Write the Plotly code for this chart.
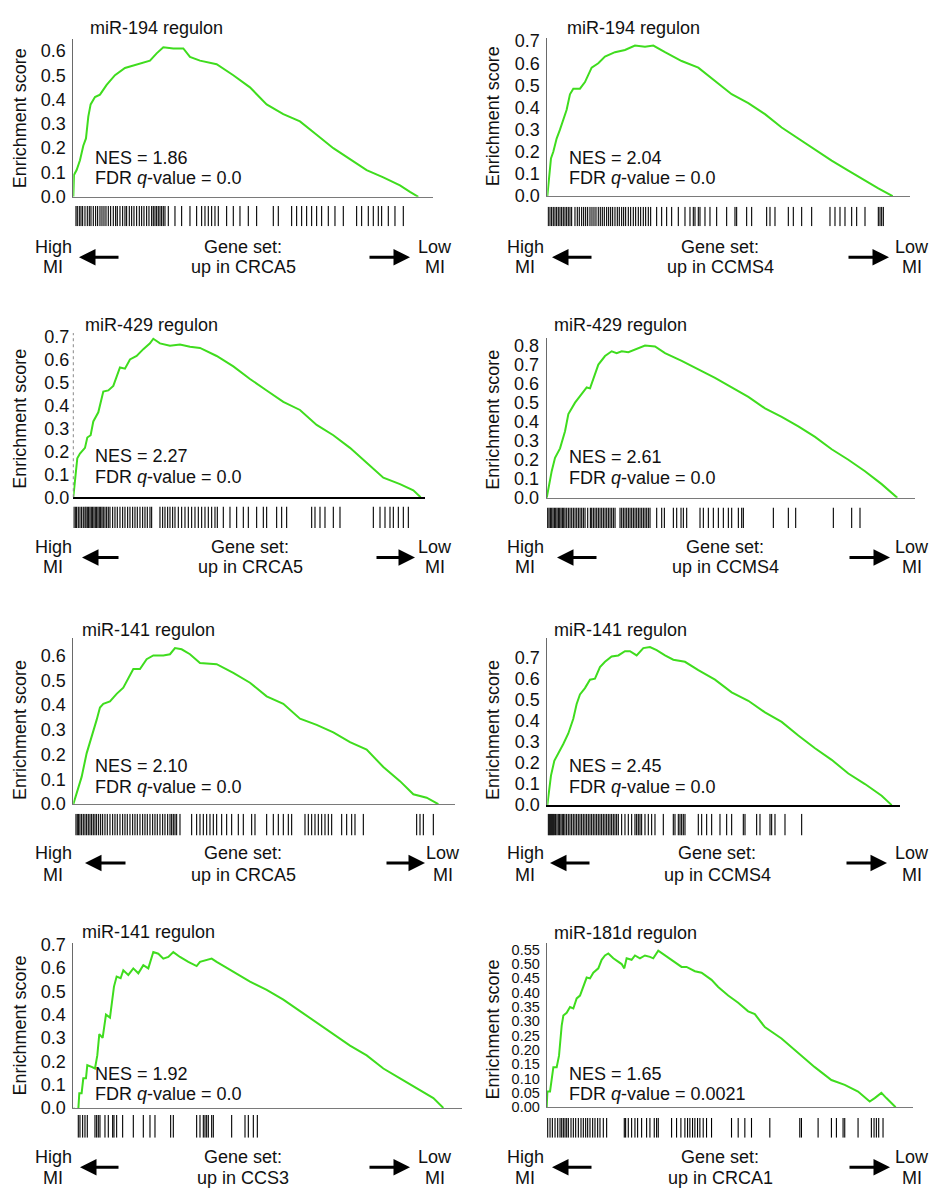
import plotly.graph_objects as go

W, H = 931, 1198
FONT = "Liberation Sans, Arial, Helvetica, sans-serif"
GREEN = "#3fdc1e"

# ---------------- data ----------------
titles = ["miR-194 regulon", "miR-194 regulon", "miR-429 regulon", "miR-429 regulon",
          "miR-141 regulon", "miR-141 regulon", "miR-141 regulon", "miR-181d regulon"]
nes_values = ["1.86", "2.04", "2.27", "2.61", "2.10", "2.45", "1.92", "1.65"]
fdr_values = ["0.0", "0.0", "0.0", "0.0", "0.0", "0.0", "0.0", "0.0021"]
gene_sets = ["CRCA5", "CCMS4", "CRCA5", "CCMS4", "CRCA5", "CCMS4", "CCS3", "CRCA1"]

p1_rank = [0, 2, 10, 20, 30, 38, 45, 52, 65, 80, 100, 125, 155, 180, 210, 230, 250, 270, 300, 330,
           350, 380, 430, 480, 530, 580, 630, 680, 730, 780, 830, 880, 930, 980, 1010, 1035]
p1_es = [0, 0.09, 0.11, 0.15, 0.21, 0.24, 0.33, 0.38, 0.41, 0.42, 0.46, 0.50, 0.53, 0.54, 0.55, 0.56,
         0.59, 0.615, 0.61, 0.61, 0.575, 0.56, 0.545, 0.50, 0.45, 0.38, 0.34, 0.31, 0.255, 0.20,
         0.155, 0.11, 0.08, 0.047, 0.02, 0.0]
p1_hits = [8, 12, 18, 23, 28, 35, 42, 48, 53, 60, 67, 73, 80, 86, 92, 98, 105, 112, 120, 127, 132, 140,
           148, 155, 160, 168, 175, 182, 190, 198, 205, 212, 220, 227, 235, 240, 245, 250, 255, 260,
           265, 270, 275, 285, 305, 325, 350, 370, 385, 395, 405, 415, 425, 435, 460, 480, 500, 525,
           550, 600, 615, 655, 670, 685, 700, 715, 730, 745, 765, 785, 810, 850, 865, 885, 900, 915,
           925, 945, 965, 990]

p2_rank = [0, 3, 11, 18, 28, 38, 48, 58, 68, 78, 98, 113, 133, 153, 173, 203, 233, 263, 293, 318,
           353, 403, 453, 503, 553, 603, 653, 703, 753, 803, 853, 903, 953, 993, 1036]
p2_es = [0, 0.05, 0.17, 0.20, 0.26, 0.30, 0.345, 0.39, 0.46, 0.485, 0.485, 0.515, 0.58, 0.60, 0.63,
         0.65, 0.66, 0.68, 0.675, 0.68, 0.65, 0.61, 0.58, 0.52, 0.46, 0.42, 0.37, 0.31, 0.26, 0.21,
         0.16, 0.115, 0.07, 0.035, 0.0]
p2_hits = [3, 8, 13, 18, 23, 28, 33, 38, 43, 48, 53, 58, 63, 68, 73, 83, 90, 96, 103, 109, 115, 121,
           128, 134, 140, 146, 153, 159, 165, 171, 178, 184, 190, 196, 203, 210, 216, 223, 229, 235,
           243, 250, 258, 265, 273, 280, 288, 295, 303, 310, 328, 343, 358, 373, 393, 413, 428, 438,
           443, 453, 458, 473, 488, 508, 538, 563, 568, 598, 613, 658, 668, 683, 723, 738, 763, 793,
           848, 863, 878, 893, 913, 928, 953, 993, 998, 1003, 1008]

p3_rank = [0, 5, 12, 20, 35, 42, 52, 60, 75, 90, 105, 120, 140, 155, 170, 190, 210, 230, 240, 260,
           290, 320, 350, 380, 430, 480, 530, 580, 630, 680, 730, 780, 830, 880, 930, 980, 1020, 1042]
p3_es = [0, 0.065, 0.17, 0.19, 0.215, 0.26, 0.27, 0.33, 0.37, 0.46, 0.465, 0.485, 0.565, 0.56, 0.60,
         0.615, 0.645, 0.67, 0.69, 0.67, 0.66, 0.665, 0.655, 0.65, 0.615, 0.57, 0.515, 0.465, 0.415,
         0.38, 0.315, 0.27, 0.215, 0.15, 0.085, 0.057, 0.03, 0.0]
p3_hits = [2, 6, 10, 15, 20, 25, 30, 35, 38, 42, 46, 50, 54, 58, 62, 66, 70, 74, 78, 82, 86, 90, 95,
           100, 105, 110, 118, 125, 132, 140, 148, 155, 163, 170, 178, 185, 192, 200, 208, 215, 222,
           230, 235, 260, 268, 275, 283, 290, 298, 305, 315, 325, 335, 345, 355, 365, 375, 385, 395,
           405, 415, 425, 432, 450, 470, 490, 510, 525, 550, 570, 580, 610, 625, 640, 715, 725, 740,
           755, 780, 800, 900, 920, 935, 950, 960, 975, 990, 1005]

p4_rank = [0, 5, 15, 25, 40, 55, 65, 85, 105, 120, 130, 140, 155, 175, 195, 210, 225, 245, 265, 295,
           325, 355, 405, 455, 505, 555, 605, 655, 705, 755, 805, 855, 905, 955, 1005, 1052]
p4_es = [0, 0.055, 0.14, 0.21, 0.26, 0.35, 0.44, 0.50, 0.545, 0.58, 0.575, 0.63, 0.70, 0.745, 0.77,
         0.76, 0.77, 0.765, 0.78, 0.80, 0.795, 0.76, 0.72, 0.675, 0.63, 0.58, 0.53, 0.47, 0.425,
         0.375, 0.32, 0.255, 0.20, 0.14, 0.072, 0.0]
p4_hits = [3, 7, 11, 15, 19, 23, 27, 31, 35, 39, 43, 47, 51, 55, 60, 65, 70, 75, 80, 85, 90, 95, 100,
           105, 110, 115, 123, 131, 135, 140, 145, 150, 155, 160, 165, 170, 175, 180, 185, 190, 195,
           200, 205, 220, 225, 230, 235, 240, 245, 250, 255, 260, 265, 270, 275, 280, 285, 290, 295,
           300, 305, 310, 330, 345, 353, 380, 390, 403, 410, 420, 460, 470, 485, 500, 515, 530, 545,
           555, 575, 585, 590, 680, 725, 747, 860, 915, 940]

p5_rank = [0, 10, 25, 40, 55, 70, 80, 90, 110, 130, 150, 165, 180, 200, 220, 240, 270, 290, 305, 325,
           350, 380, 430, 480, 530, 580, 630, 680, 730, 780, 830, 880, 930, 980, 1020, 1060, 1095]
p5_es = [0, 0.046, 0.11, 0.205, 0.27, 0.34, 0.39, 0.405, 0.415, 0.445, 0.47, 0.51, 0.545, 0.545,
         0.585, 0.60, 0.60, 0.605, 0.63, 0.625, 0.605, 0.57, 0.565, 0.53, 0.49, 0.435, 0.405, 0.345,
         0.32, 0.29, 0.25, 0.22, 0.15, 0.093, 0.04, 0.026, 0.0]
p5_hits = [8, 12, 16, 20, 25, 30, 35, 40, 45, 50, 55, 60, 65, 70, 76, 82, 88, 95, 102, 110, 118, 125,
           132, 140, 148, 155, 162, 170, 178, 185, 192, 200, 208, 215, 222, 230, 238, 245, 252, 260,
           268, 275, 283, 290, 295, 300, 305, 310, 320, 355, 370, 380, 390, 400, 410, 420, 430, 445,
           460, 475, 495, 510, 535, 545, 580, 600, 615, 630, 645, 655, 695, 705, 715, 725, 735, 745,
           755, 765, 775, 805, 820, 835, 845, 870, 1030, 1040, 1050, 1080]

p6_rank = [0, 5, 11, 21, 33, 48, 63, 78, 88, 98, 113, 128, 143, 158, 173, 193, 213, 233, 248, 268,
           288, 308, 328, 353, 378, 413, 453, 503, 553, 603, 653, 703, 753, 803, 853, 903, 953, 1003, 1033]
p6_es = [0, 0.06, 0.14, 0.21, 0.245, 0.29, 0.34, 0.41, 0.48, 0.525, 0.555, 0.595, 0.60, 0.655, 0.68,
         0.705, 0.71, 0.73, 0.73, 0.71, 0.745, 0.75, 0.735, 0.71, 0.69, 0.68, 0.64, 0.595, 0.535,
         0.495, 0.44, 0.395, 0.33, 0.27, 0.215, 0.15, 0.10, 0.045, 0.0]
p6_hits = [3, 6, 9, 12, 15, 18, 21, 25, 29, 33, 37, 41, 45, 49, 53, 58, 63, 68, 73, 78, 83, 88, 93,
           98, 103, 108, 113, 118, 123, 128, 133, 138, 143, 148, 153, 158, 163, 168, 173, 178, 183,
           188, 193, 198, 203, 208, 213, 223, 233, 243, 253, 263, 268, 273, 278, 283, 293, 303, 313,
           323, 348, 378, 383, 393, 398, 403, 408, 413, 453, 463, 478, 493, 518, 538, 553, 588, 593,
           628, 638, 668, 673, 683, 713, 763]

p7_rank = [0, 8, 15, 18, 25, 30, 38, 42, 55, 65, 72, 78, 88, 98, 110, 122, 130, 142, 150, 165,
           180, 195, 210, 225, 240, 255, 270, 285, 300, 320, 345, 370, 380, 400, 415, 430, 480, 530,
           580, 630, 680, 730, 780, 830, 880, 930, 980, 1030, 1080, 1110]
p7_es = [0, -0.014, -0.007, 0.063, 0.063, 0.127, 0.127, 0.183, 0.176, 0.169, 0.225, 0.316, 0.30,
         0.40, 0.387, 0.52, 0.563, 0.556, 0.59, 0.57, 0.598, 0.577, 0.612, 0.598, 0.668, 0.661, 0.64,
         0.647, 0.668, 0.647, 0.626, 0.608, 0.626, 0.633, 0.64, 0.626, 0.584, 0.541, 0.506, 0.464,
         0.415, 0.366, 0.316, 0.267, 0.225, 0.169, 0.127, 0.084, 0.042, 0.0]
p7_hits = [15, 20, 28, 35, 42, 65, 70, 75, 80, 95, 105, 118, 122, 130, 148, 180, 210, 230, 245, 292,
           300, 370, 380, 390, 395, 400, 405, 415, 420, 475, 515, 525, 540, 552]

p8_rank = [0, 2, 10, 15, 20, 30, 37, 45, 50, 60, 70, 80, 90, 100, 110, 120, 130, 140, 155, 165,
           175, 185, 200, 225, 233, 240, 255, 265, 280, 295, 310, 320, 335, 355, 375, 405, 420, 445,
           465, 495, 515, 545, 575, 605, 625, 655, 705, 755, 805, 855, 895, 935, 970, 985, 1005, 1020, 1048]
p8_es = [0, 0.055, 0.055, 0.10, 0.14, 0.14, 0.18, 0.285, 0.32, 0.33, 0.35, 0.345, 0.38, 0.39, 0.42,
         0.453, 0.45, 0.47, 0.485, 0.515, 0.53, 0.537, 0.52, 0.50, 0.485, 0.52, 0.515, 0.53, 0.52,
         0.53, 0.525, 0.52, 0.547, 0.53, 0.515, 0.49, 0.49, 0.475, 0.47, 0.445, 0.42, 0.39, 0.365,
         0.335, 0.325, 0.28, 0.24, 0.19, 0.14, 0.095, 0.078, 0.055, 0.02, 0.032, 0.05, 0.032, 0.0]
p8_hits = [3, 10, 17, 25, 33, 40, 45, 50, 55, 60, 65, 73, 80, 87, 95, 103, 110, 117, 123, 130, 138,
           145, 153, 160, 170, 180, 233, 237, 245, 255, 265, 273, 285, 300, 310, 323, 330, 335, 375,
           390, 403, 415, 423, 430, 438, 445, 453, 460, 470, 480, 495, 555, 575, 595, 615, 670, 760,
           765, 815, 855, 870, 890, 895, 935, 975, 983, 990, 997, 1010]

panel_data = [(p1_rank, p1_es, p1_hits), (p2_rank, p2_es, p2_hits), (p3_rank, p3_es, p3_hits),
              (p4_rank, p4_es, p4_hits), (p5_rank, p5_es, p5_hits), (p6_rank, p6_es, p6_hits),
              (p7_rank, p7_es, p7_hits), (p8_rank, p8_es, p8_hits)]

# axis extents (value at top of y axis, rank at end of x line)
y_tops = [0.648, 0.716, 0.715, 0.84, 0.669, 0.791, 0.708, 0.5745]
x_ends = [1080, 1088, 1055, 1105, 1145, 1058, 1165, 1100]

# ---------------- geometry (pixels) ----------------
L = dict(ytx=20, nx=93, hx=53)
R = dict(ytx=493, nx=567, hx=525)
geo = [
    dict(L, ax=73.3, xe=433.3, y0=191.7, yt=31.7, bt=201, bb=221.7, tx=88, ty=20, yty=112, ny=152,
         lx=435, gx=243, l1=243, l2=263, ay=253, la=(79, 120), ra=(410, 368)),
    dict(R, ax=547.3, xe=910, y0=191, yt=30, bt=201.7, bb=221.7, tx=565, ty=20, yty=110, ny=152,
         lx=912, gx=720, l1=243, l2=263, ay=253, la=(552, 593), ra=(889, 847)),
    dict(L, ax=73.3, xe=425, y0=496.7, yt=330, bt=506, bb=528, tx=83, ty=322, yty=417, ny=455,
         lx=435, gx=250, l1=547, l2=568, ay=558, la=(82, 120), ra=(415, 375)),
    dict(R, ax=546.7, xe=915, y0=497.3, yt=335, bt=507, bb=528, tx=552, ty=322, yty=418, ny=456,
         lx=912, gx=725, l1=547, l2=568, ay=558, la=(557, 598), ra=(890, 848)),
    dict(L, ax=73.3, xe=455, y0=808.3, yt=640, bt=818, bb=840, tx=80, ty=631, yty=733, ny=770,
         lx=443, gx=243, l1=858, l2=880, ay=868, la=(85, 127), ra=(425, 385)),
    dict(R, ax=547.3, xe=900, y0=809.3, yt=640, bt=818, bb=840, tx=552, ty=631, yty=733, ny=770,
         lx=912, gx=717, l1=858, l2=880, ay=868, la=(550, 591), ra=(887, 845)),
    dict(L, ax=73.3, xe=461.7, y0=1116.7, yt=949, bt=1124, bb=1147, tx=80, ty=938, yty=1033, ny=1082,
         lx=435, gx=243, l1=1167, l2=1188, ay=1177, la=(80, 120), ra=(410, 368)),
    dict(R, ax=546.7, xe=913, y0=1116, yt=949, bt=1127, bb=1147, tx=552, ty=939, yty=1037, ny=1082,
         lx=912, gx=720, l1=1167, l2=1188, ay=1177, la=(552, 593), ra=(890, 848)),
]
xline_style = [("#7a7a7a", 1), ("#7a7a7a", 1), ("#000000", 2), ("#7a7a7a", 1),
               ("#7a7a7a", 1), ("#000000", 2), ("#7a7a7a", 1), ("#7a7a7a", 1)]
yline_color = ["#6a6a6a", "#6a6a6a", None, "#6a6a6a", "#6a6a6a", "#6a6a6a", "#6a6a6a", "#6a6a6a"]


def px(x):
    return x / W


def py(y):
    return 1 - y / H


fig = go.Figure()
layout = {}
annotations = []
shapes = []


def txt(x, y, s, xanchor="center", size=18, angle=0):
    annotations.append(dict(x=px(x), y=py(y), xref="paper", yref="paper", text=s, showarrow=False,
                            xanchor=xanchor, yanchor="middle", textangle=angle,
                            font=dict(family=FONT, size=size, color="#111111")))


def arrow(head, tail, y):
    annotations.append(dict(x=px(head), y=py(y), xref="paper", yref="paper", text="",
                            showarrow=True, ax=tail - head, ay=0, axref="pixel", ayref="pixel",
                            arrowhead=2, arrowsize=1.1, arrowwidth=3, arrowcolor="#000000"))


for i, (g, (rank, es, hits)) in enumerate(zip(geo, panel_data)):
    mi = 2 * i + 1
    bi = 2 * i + 2
    mx = "x" if mi == 1 else f"x{mi}"
    my = "y" if mi == 1 else f"y{mi}"
    bx, by = f"x{bi}", f"y{bi}"
    mxk = "xaxis" if mi == 1 else f"xaxis{mi}"
    myk = "yaxis" if mi == 1 else f"yaxis{mi}"
    small = (i == 7)

    fig.add_trace(go.Scatter(x=rank, y=es, mode="lines", xaxis=mx, yaxis=my,
                             line=dict(color=GREEN, width=2), hoverinfo="skip"))
    bxs, bys = [], []
    for h in hits:
        bxs += [h, h, None]
        bys += [0, 1, None]
    fig.add_trace(go.Scatter(x=bxs, y=bys, mode="lines", xaxis=bx, yaxis=by,
                             line=dict(color="#000000", width=1.1), hoverinfo="skip"))

    lc, lw = xline_style[i]
    layout[mxk] = dict(domain=[px(g["ax"]), px(g["xe"])], range=[0, x_ends[i]], anchor=my,
                       showline=True, linecolor=lc, linewidth=lw, showticklabels=False,
                       ticks="", showgrid=False, zeroline=False)
    ylc = yline_color[i]
    layout[myk] = dict(domain=[py(g["y0"]), py(g["yt"])], range=[0, y_tops[i]], anchor=mx,
                       showline=ylc is not None, linecolor=ylc or "#999999", linewidth=1, ticks="",
                       showgrid=False, zeroline=False, tick0=0,
                       dtick=0.05 if small else 0.1, tickformat=".2f" if small else ".1f",
                       tickfont=dict(family=FONT, size=14.5 if small else 18, color="#111111"),
                       ticklabelstandoff=3)
    if ylc is None:
        # dotted y-axis line (as in the reference panel)
        shapes.append(dict(type="line", xref="paper", yref="paper",
                           x0=px(g["ax"]), x1=px(g["ax"]), y0=py(g["y0"]), y1=py(g["yt"]),
                           line=dict(color="#888888", width=1, dash="dot")))
    layout[f"xaxis{bi}"] = dict(domain=[px(g["ax"]), px(g["xe"])], range=[0, x_ends[i]],
                                anchor=by, visible=False)
    layout[f"yaxis{bi}"] = dict(domain=[py(g["bb"]), py(g["bt"])], range=[0, 1],
                                anchor=bx, visible=False)

    txt(g["tx"], g["ty"], titles[i], xanchor="left")
    txt(g["ytx"], g["yty"], "Enrichment score", angle=-90)
    txt(g["nx"], g["ny"], f"NES = {nes_values[i]}", xanchor="left")
    txt(g["nx"], g["ny"] + 21, f"FDR <i>q</i>-value = {fdr_values[i]}", xanchor="left")
    txt(g["hx"], g["l1"], "High")
    txt(g["hx"], g["l2"], "MI")
    txt(g["lx"], g["l1"], "Low")
    txt(g["lx"], g["l2"], "MI")
    txt(g["gx"], g["l1"], "Gene set:")
    txt(g["gx"], g["l2"], f"up in {gene_sets[i]}")
    arrow(g["la"][0], g["la"][1], g["ay"])
    arrow(g["ra"][0], g["ra"][1], g["ay"])

fig.update_layout(width=W, height=H, margin=dict(l=0, r=0, t=0, b=0), showlegend=False,
                  paper_bgcolor="white", plot_bgcolor="white",
                  font=dict(family=FONT, size=18, color="#111111"),
                  annotations=annotations, shapes=shapes, **layout)

pin_page = (
    "var s='margin:0;padding:0;overflow:hidden;width:931px;height:1198px;';"
    "document.documentElement.style.cssText=s;document.body.style.cssText=s;"
    "var d=document.getElementById('{plot_id}');"
    "d.style.position='fixed';d.style.top='0px';d.style.left='0px';"
)
fig.write_html("out.html", config={"displayModeBar": False}, post_script=pin_page)
